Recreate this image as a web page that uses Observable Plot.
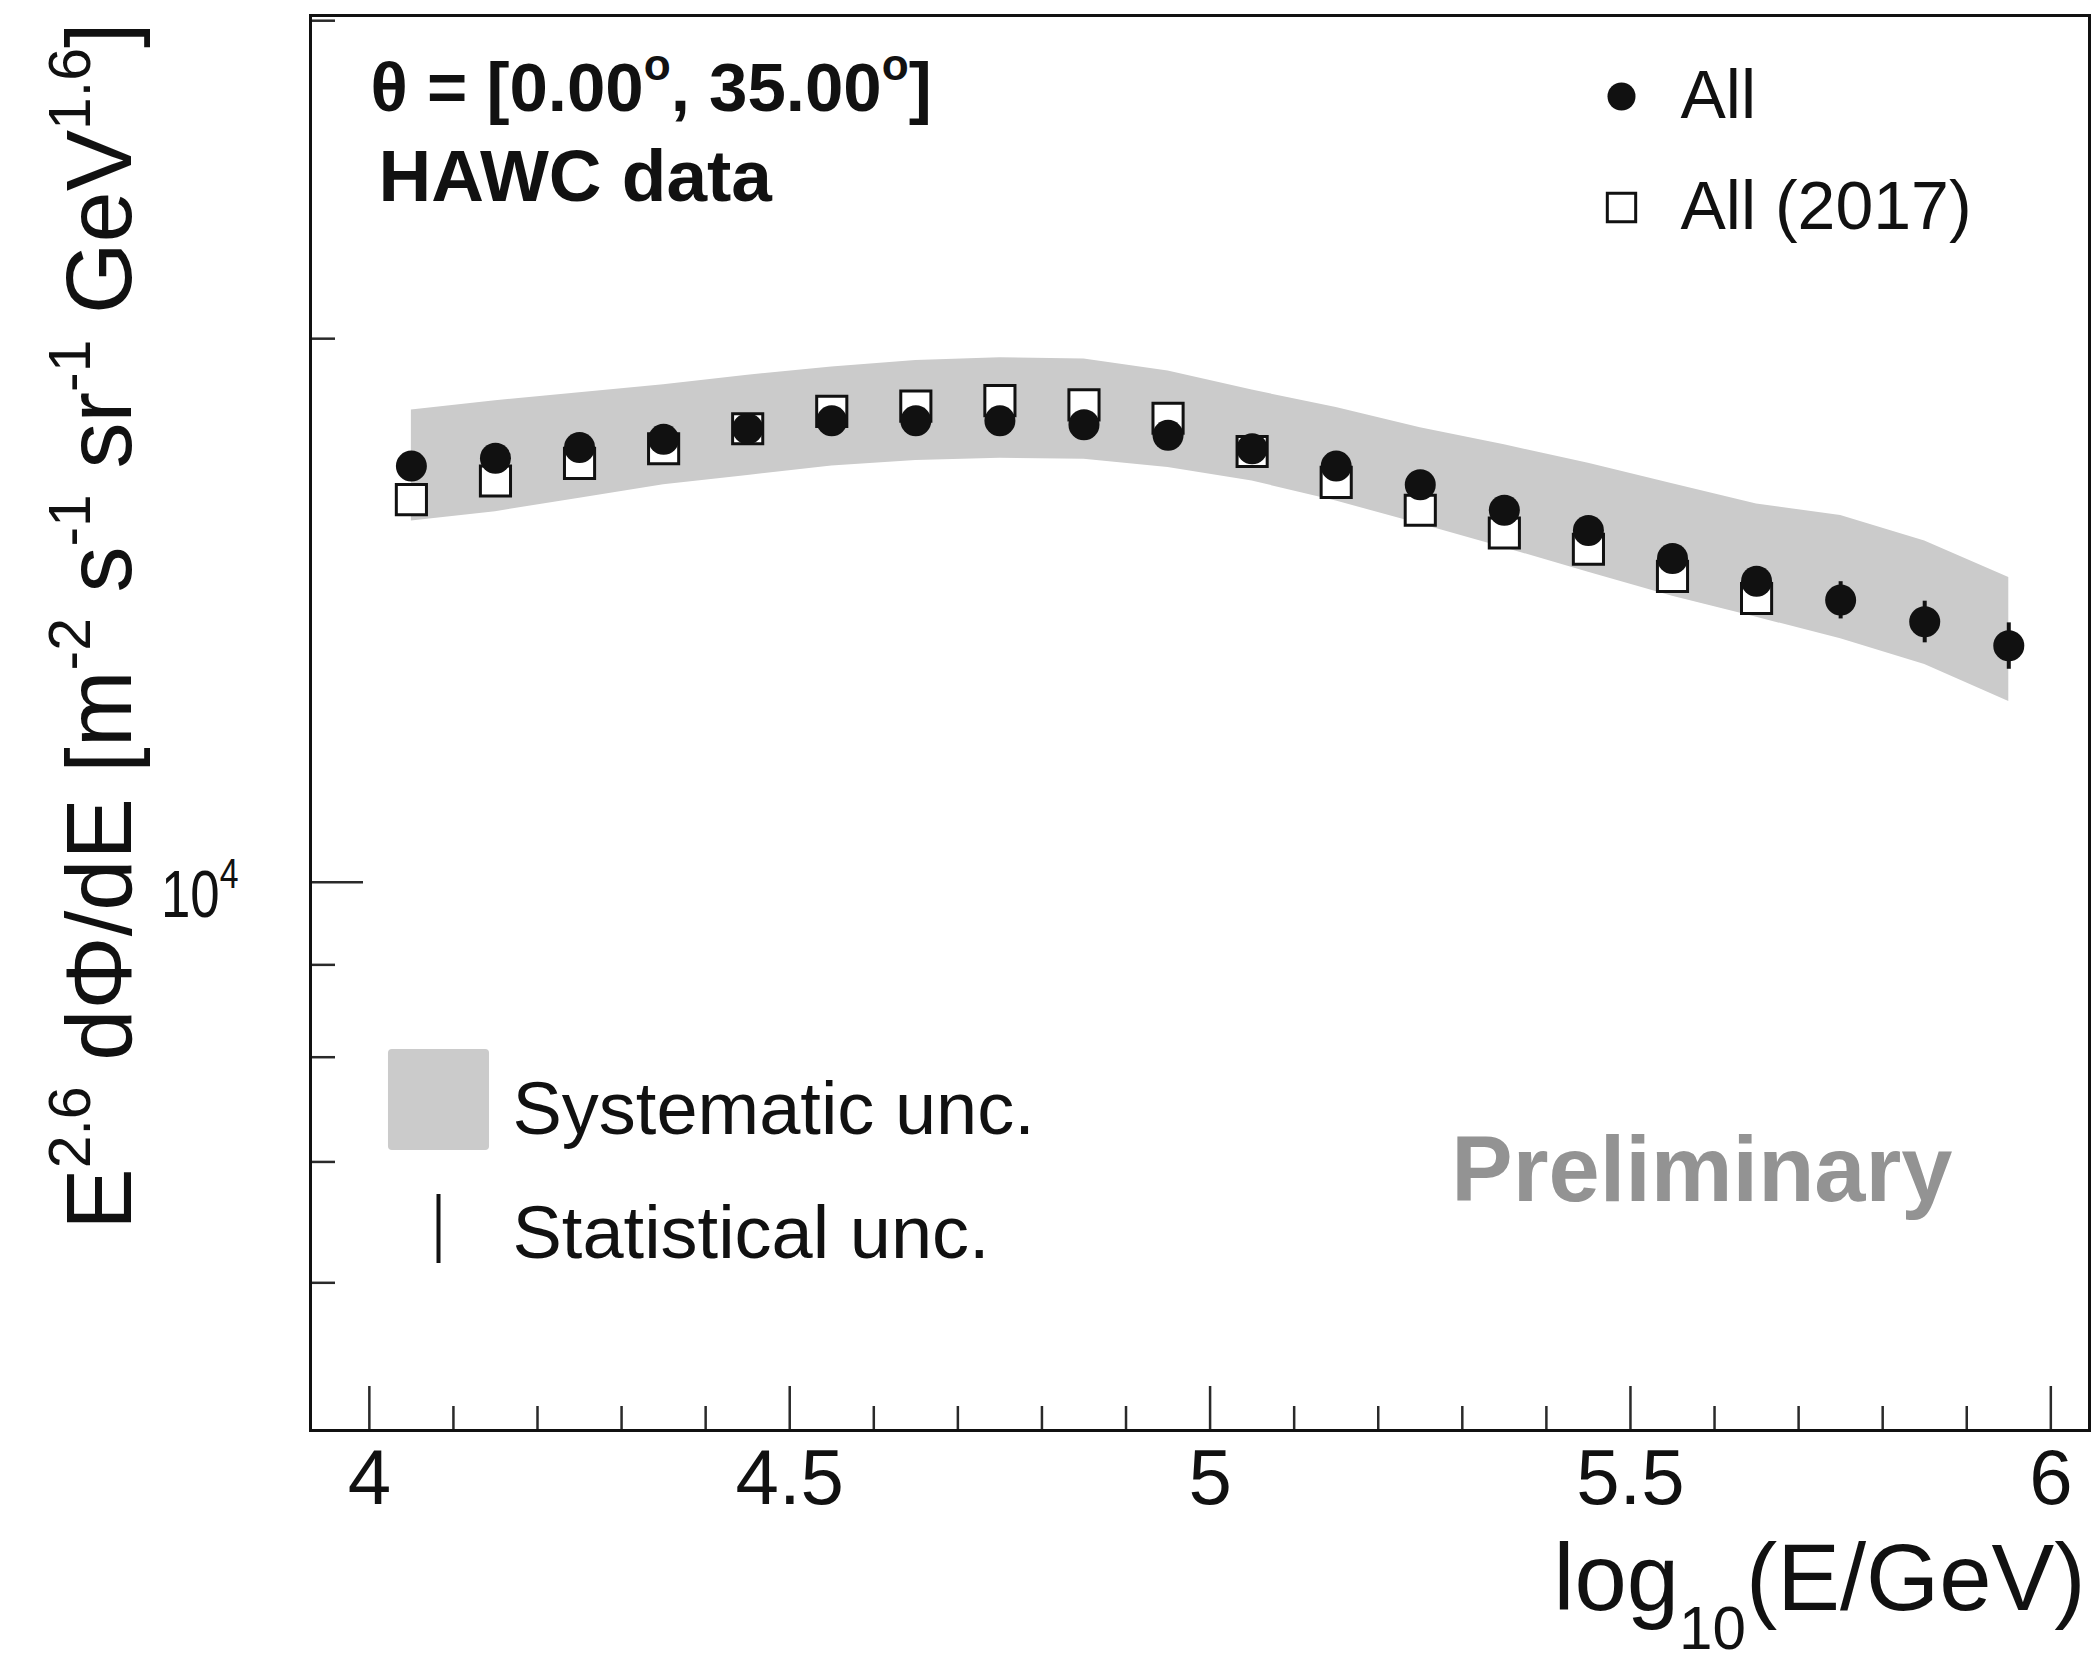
<!DOCTYPE html>
<html>
<head>
<meta charset="utf-8">
<script src="https://cdn.jsdelivr.net/npm/d3@7"></script>
<script src="https://cdn.jsdelivr.net/npm/@observablehq/plot@0.6"></script>
<style>
  html, body { margin: 0; padding: 0; background: #fff; }
  #chart svg { display: block; }
</style>
</head>
<body>
<div id="chart"></div>
<script>
// ---- data ----
const energies = [4.05, 4.15, 4.25, 4.35, 4.45, 4.55, 4.65, 4.75, 4.85, 4.95,
                  5.05, 5.15, 5.25, 5.35, 5.45, 5.55, 5.65, 5.75, 5.85, 5.95];
const fluxAll = [17000, 17170, 17410, 17590, 17830, 18010, 18010, 18010, 17920, 17680,
                 17380, 17000, 16600, 16070, 15660, 15110, 14680, 14330, 13940, 13520];
const statAll = [40, 40, 45, 45, 50, 55, 60, 65, 70, 80,
                 90, 100, 110, 130, 150, 190, 240, 340, 370, 400];
const energies2017 = [4.05, 4.15, 4.25, 4.35, 4.45, 4.55, 4.65, 4.75, 4.85, 4.95,
                      5.05, 5.15, 5.25, 5.35, 5.45, 5.55, 5.65];
const flux2017 = [16290, 16680, 17060, 17380, 17830, 18230, 18350, 18480, 18380, 18070,
                  17320, 16650, 16070, 15610, 15290, 14770, 14360];
const sysLow = [15850, 16040, 16320, 16600, 16800, 17000, 17120, 17170, 17150, 16970,
                16680, 16260, 15790, 15320, 14850, 14400, 14020, 13640, 13200, 12590];
const sysHigh = [18260, 18480, 18670, 18860, 19090, 19290, 19450, 19520, 19490, 19190,
                 18730, 18320, 17850, 17470, 17060, 16620, 16200, 15960, 15450, 14750];
const xMajorTicks = [4, 4.5, 5, 5.5, 6];
const xMinorTicks = [4.1, 4.2, 4.3, 4.4, 4.6, 4.7, 4.8, 4.9, 5.1, 5.2, 5.3, 5.4, 5.6, 5.7, 5.8, 5.9];
const yMajorTicks = [10000];
const yMajorLabels = ["10^{4}"];
const yMinorTicks = [6000, 7000, 8000, 9000, 20000, 30000];
const xTitle = "log_{10}(E/GeV)";
const yTitle = "E^{2.6} dΦ/dE [m^{-2} s^{-1} sr^{-1} GeV^{1.6}]";
const infoLines = ["θ = [0.00^{o}, 35.00^{o}]", "HAWC data"];
const seriesNames = ["All", "All (2017)"];
const uncNames = ["Systematic unc.", "Statistical unc."];
const watermark = "Preliminary";

// ---- tables built from the arrays ----
const allRows = energies.map((e, i) => ({e, f: fluxAll[i], lo: fluxAll[i] - statAll[i], hi: fluxAll[i] + statAll[i]}));
const rows2017 = energies2017.map((e, i) => ({e, f: flux2017[i]}));
const bandRows = energies.map((e, i) => ({e, lo: sysLow[i], hi: sysHigh[i]}));
const yLabelRows = yMajorTicks.map((v, i) => ({v, label: yMajorLabels[i]}));

const FONT = "'Liberation Sans', Arial, Helvetica, sans-serif";
const ink = "#111";
const axisInk = "#2a2a2a";
const bandFill = "#cbcbcb";

const vbar = {draw(ctx, size) { const r = Math.sqrt(size / Math.PI); ctx.moveTo(0, -r); ctx.lineTo(0, r); }};

const plot = Plot.plot({
  width: 2096,
  height: 1662,
  marginLeft: 310,
  marginRight: 7,
  marginTop: 15,
  marginBottom: 232,
  style: {fontFamily: FONT, background: "#fff", color: ink},
  x: {domain: [3.93, 6.046], label: null},
  y: {type: "log", domain: [4970, 30200], label: null},
  marks: [
    // systematic band
    Plot.areaY(bandRows, {x: "e", y1: "lo", y2: "hi", fill: bandFill, curve: "linear"}),
    // 2017 squares (white filled)
    Plot.dot(rows2017, {x: "e", y: "f", symbol: "square", r: 17, fill: "#fff", stroke: ink, strokeWidth: 3}),
    // stat errors
    Plot.ruleX(allRows, {x: "e", y1: "lo", y2: "hi", stroke: ink, strokeWidth: 4}),
    // All circles
    Plot.dot(allRows, {x: "e", y: "f", r: 15.5, fill: ink}),

    // axes: inward ticks
    Plot.axisX(xMajorTicks, {anchor: "bottom", tickSize: -44, tickFormat: () => "", stroke: axisInk, strokeWidth: 2.5, label: null}),
    Plot.axisX(xMinorTicks, {anchor: "bottom", tickSize: -24, tickFormat: () => "", stroke: axisInk, strokeWidth: 2.5, label: null}),
    Plot.axisX(xMajorTicks, {anchor: "bottom", tickSize: 0, tickPadding: 18, fontSize: 78, fill: ink, tickFormat: d => String(d), label: null}),
    Plot.axisY(yMajorTicks, {anchor: "left", tickSize: -53, tickFormat: () => "", stroke: axisInk, strokeWidth: 2.5, label: null}),
    Plot.axisY(yMinorTicks, {anchor: "left", tickSize: -25, tickFormat: () => "", stroke: axisInk, strokeWidth: 2.5, label: null}),
    Plot.frame({stroke: ink, strokeWidth: 3}),
    // y major tick label
    Plot.text(yLabelRows, {y: "v", text: "label", frameAnchor: "left", textAnchor: "end", lineAnchor: "middle", dx: -72, dy: 14, fontSize: 66, fill: ink}),

    // axis titles
    Plot.text([xTitle], {frameAnchor: "bottom-right", textAnchor: "end", lineAnchor: "bottom", dx: -4, dy: 179, fontSize: 94, fill: ink}),
    Plot.text([yTitle], {frameAnchor: "top-left", textAnchor: "end", lineAnchor: "bottom", rotate: -90, dx: -180, dy: 7, fontSize: 92, fill: ink}),

    // info text (top-left)
    Plot.text([infoLines[0]], {frameAnchor: "top-left", textAnchor: "start", lineAnchor: "bottom", dx: 60, dy: 95, fontSize: 69, fontWeight: "bold", fill: ink}),
    Plot.text([infoLines[1]], {frameAnchor: "top-left", textAnchor: "start", lineAnchor: "bottom", dx: 68, dy: 185, fontSize: 73, fontWeight: "bold", fill: ink}),

    // series legend (top-right)
    Plot.dot([0], {frameAnchor: "top-right", dx: -468, dy: 81, r: 14, fill: ink}),
    Plot.dot([0], {frameAnchor: "top-right", dx: -468, dy: 192, symbol: "square", r: 16, fill: "#fff", stroke: ink, strokeWidth: 3}),
    Plot.text([seriesNames[0]], {frameAnchor: "top-right", textAnchor: "start", lineAnchor: "middle", dx: -409, dy: 81, fontSize: 68, fill: ink}),
    Plot.text([seriesNames[1]], {frameAnchor: "top-right", textAnchor: "start", lineAnchor: "middle", dx: -409, dy: 192, fontSize: 68, fill: ink}),

    // uncertainty legend (bottom-left)
    Plot.dot([0], {frameAnchor: "bottom-left", dx: 128, dy: -331, symbol: "square", r: 52.5, fill: bandFill, stroke: bandFill, strokeWidth: 8, strokeLinejoin: "round"}),
    Plot.dot([0], {frameAnchor: "bottom-left", dx: 128, dy: -202, symbol: vbar, r: 34.5, stroke: ink, strokeWidth: 4}),
    Plot.text([uncNames[0]], {frameAnchor: "bottom-left", textAnchor: "start", lineAnchor: "bottom", dx: 202, dy: -297, fontSize: 74, fill: ink}),
    Plot.text([uncNames[1]], {frameAnchor: "bottom-left", textAnchor: "start", lineAnchor: "bottom", dx: 202, dy: -173, fontSize: 74, fill: ink}),

    // watermark
    Plot.text([watermark], {frameAnchor: "bottom-right", textAnchor: "end", lineAnchor: "bottom", dx: -137, dy: -230, fontSize: 92, fontWeight: "bold", fill: "#939393"})
  ]
});

document.getElementById("chart").appendChild(plot);

// rich text: ^{...} superscripts and _{...} subscripts as tspans
function rich(el) {
  const s = el.textContent;
  if (!/[\^_]\{/.test(s)) return false;
  const fs = parseFloat(getComputedStyle(el).fontSize) || 16;
  el.textContent = "";
  let shift = 0;
  const parts = s.split(/(\^\{[^}]*\}|_\{[^}]*\})/).filter(p => p !== "");
  for (const p of parts) {
    const t = document.createElementNS("http://www.w3.org/2000/svg", "tspan");
    let target = 0, txt = p, size = null;
    if (p.startsWith("^{")) { target = -0.44 * fs; txt = p.slice(2, -1); size = 0.64 * fs; }
    else if (p.startsWith("_{")) { target = 0.42 * fs; txt = p.slice(2, -1); size = 0.64 * fs; }
    const dy = target - shift;
    if (dy) t.setAttribute("dy", dy);
    shift = target;
    if (size) t.setAttribute("font-size", size);
    t.textContent = txt;
    el.appendChild(t);
  }
  return true;
}
plot.querySelectorAll("text").forEach(el => {
  const isTick = yMajorLabels.includes(el.textContent);
  rich(el);
  if (isTick) {
    // slightly condensed log-axis label, scaled about its right-hand anchor
    const tr = el.getAttribute("transform") || "";
    el.setAttribute("transform", tr + " scale(0.8,1)");
  }
});
</script>
</body>
</html>
